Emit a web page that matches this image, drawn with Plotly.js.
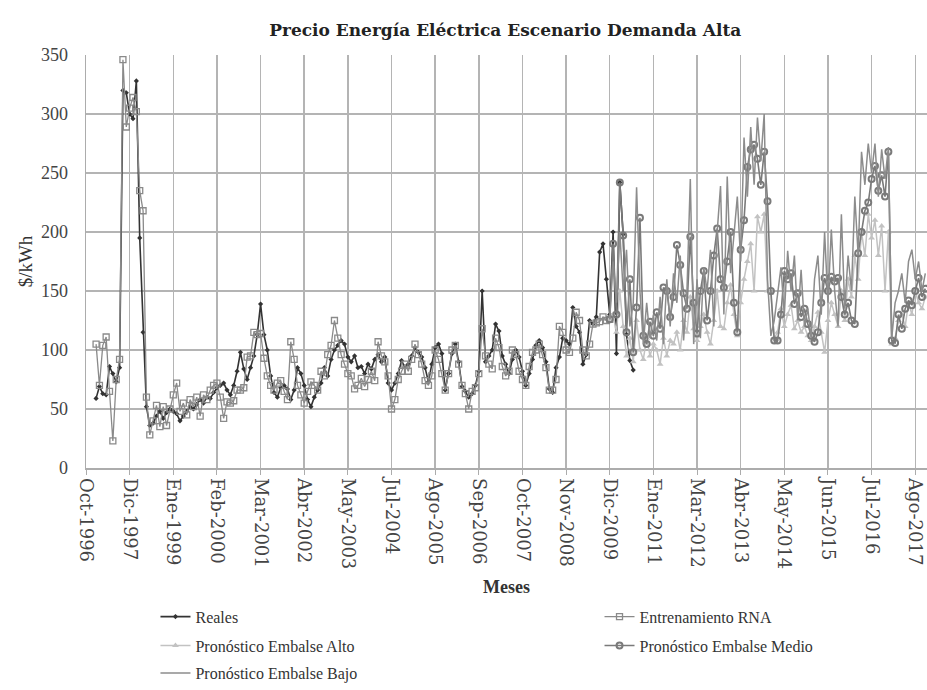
<!DOCTYPE html>
<html><head><meta charset="utf-8">
<script src="https://cdn.plot.ly/plotly-3.0.1.min.js"></script>
<style>html,body{margin:0;padding:0;background:#fff}#chart{width:927px;height:690px}</style>
</head><body><div id="chart"></div>
<script>
// Tick labels (one every 13 categories)
const tickLabels = ['Oct-1996','Dic-1997','Ene-1999','Feb-2000','Mar-2001','Abr-2002','May-2003','Jul-2004','Ago-2005','Sep-2006','Oct-2007','Nov-2008','Dic-2009','Ene-2011','Mar-2012','Abr-2013','May-2014','Jun-2015','Jul-2016','Ago-2017'];
const tickStep = 13;

// Reales (starting at category 3)
const realesStart = 3;
const reales = [59,69,63,62,86,80,73,85,320,318,300,296,328,195,115,52,36,38,44,48,42,47,50,48,46,40,44,48,52,50,54,58,55,60,59,64,68,70,72,66,62,70,82,98,84,75,85,95,113,139,113,100,78,64,60,68,70,67,58,66,85,80,70,58,52,60,66,72,85,78,92,100,104,108,105,94,90,95,85,86,80,88,84,92,96,90,94,72,66,72,80,91,85,88,95,102,98,94,85,73,88,102,105,97,66,80,97,105,90,69,65,60,63,70,82,150,90,95,100,122,116,95,88,80,92,100,94,82,70,80,92,104,108,102,90,67,64,85,94,110,108,105,136,120,115,88,96,125,122,128,183,190,160,130,200,97,242,198,113,91,83];

// Entrenamiento RNA (starting at category 3)
const entrenStart = 3;
const entrenamiento = [105,70,104,111,65,23,75,92,346,289,305,314,302,235,218,60,28,40,53,35,52,36,50,62,72,48,55,45,58,52,60,44,62,58,66,70,72,60,42,56,55,57,66,66,68,94,95,115,113,114,93,78,70,66,72,74,65,58,107,92,70,62,55,65,73,70,66,82,78,96,104,125,110,96,88,80,78,67,70,76,69,75,82,74,107,95,90,78,50,58,75,82,88,82,92,105,96,88,74,70,78,100,92,80,66,80,100,104,88,70,63,50,65,68,80,118,95,88,84,110,102,86,78,82,100,96,82,75,70,86,98,100,105,96,85,66,66,75,120,115,100,98,110,132,125,100,95,105,122,123,124,128,125,126];

// Forecasts (starting at category 156)
const pronStart = 156;
const embalseAlto = [126,130,115,150,120,95,110,90,125,100,92,110,95,105,100,88,110,95,108,105,115,100,125,115,145,118,108,120,130,115,105,125,150,120,118,140,155,130,112,140,160,175,190,150,213,200,215,150,148,110,115,135,120,130,138,118,125,115,120,112,108,120,132,115,98,125,140,130,120,150,125,160,145,180,160,200,180,215,195,210,180,205,150,200,105,110,125,130,120,140,130,150,140,135,145];
const embalseMedio = [126,190,130,242,197,115,160,98,136,212,112,105,124,112,132,118,153,150,128,145,189,172,148,135,196,140,114,150,167,125,150,180,203,160,153,175,200,140,115,185,210,255,270,274,262,240,268,226,150,108,108,130,167,160,165,139,148,128,135,122,112,107,115,140,161,150,162,158,161,145,130,140,125,122,182,200,218,225,245,256,235,248,230,268,108,106,130,118,135,142,138,150,161,145,152];
const embalseBajo = [126,175,140,200,150,185,120,140,238,150,105,140,110,130,108,145,105,160,120,165,140,180,108,150,245,105,160,110,170,150,185,120,200,239,130,247,165,200,230,175,280,230,289,240,297,260,300,160,112,125,150,170,130,184,150,180,125,168,120,135,110,160,180,130,200,140,202,150,120,215,135,180,150,230,180,268,240,275,250,275,230,270,245,272,110,140,150,165,140,175,185,160,175,150,165];

const idx = (start, arr) => arr.map((_, i) => start + i);
const serif = 'Liberation Serif, Times New Roman, serif';

const traces = [
  {name:'Reales', x:idx(realesStart,reales), y:reales, type:'scatter', mode:'lines+markers',
   line:{color:'#333333', width:1.6}, marker:{symbol:'diamond', size:4, color:'#333333'}, legend:'legend'},
  {name:'Entrenamiento RNA', x:idx(entrenStart,entrenamiento), y:entrenamiento, type:'scatter', mode:'lines+markers',
   line:{color:'#8a8a8a', width:1.3}, marker:{symbol:'square-open', size:6, color:'#8a8a8a', line:{width:1.3}}, legend:'legend2'},
  {name:'Pronóstico Embalse Alto', x:idx(pronStart,embalseAlto), y:embalseAlto, type:'scatter', mode:'lines+markers',
   line:{color:'#c2c2c2', width:1.5}, marker:{symbol:'triangle-up', size:6, color:'#c2c2c2'}, legend:'legend3'},
  {name:'Pronóstico Embalse Medio', x:idx(pronStart,embalseMedio), y:embalseMedio, type:'scatter', mode:'lines+markers',
   line:{color:'#7a7a7a', width:1.6}, marker:{symbol:'circle-open', size:6, color:'#7a7a7a', line:{width:2}}, legend:'legend4'},
  {name:'Pronóstico Embalse Bajo', x:idx(pronStart,embalseBajo), y:embalseBajo, type:'scatter', mode:'lines',
   line:{color:'#8c8c8c', width:1.5}, legend:'legend5'}
];

const legBase = {orientation:'h', xanchor:'left', yanchor:'middle',
  font:{family:serif, size:16, color:'#333'}, bgcolor:'rgba(0,0,0,0)'};
const leg = (x, y) => Object.assign({}, legBase, {x:x, y:y});

const layout = {
  width:927, height:690,
  margin:{l:86, r:0, t:55, b:218},
  paper_bgcolor:'#fff', plot_bgcolor:'#fff',
  title:{text:'<b>Precio Energía Eléctrica Escenario Demanda Alta</b>', font:{family:'DejaVu Serif, serif', size:17, color:'#222'},
         x:0.545, xanchor:'center', y:0.957, yanchor:'middle'},
  xaxis:{range:[0,250.5], tickvals:tickLabels.map((_, i) => i*tickStep), ticktext:tickLabels, tickangle:90,
         tickfont:{family:'DejaVu Serif, serif', size:18, color:'#444'}, showgrid:true, gridcolor:'#b4b4b4', gridwidth:1.5,
         showline:true, linecolor:'#acacac', linewidth:1.5, ticks:'outside', ticklen:5, tickcolor:'#acacac', zeroline:false,
         title:{text:'<b>Meses</b>', font:{family:serif, size:18, color:'#333'}, standoff:12}},
  yaxis:{range:[0,350], dtick:50, tickfont:{family:serif, size:18, color:'#444'}, showgrid:true, gridcolor:'#b4b4b4', gridwidth:1.5,
         showline:true, linecolor:'#acacac', linewidth:1.5, zeroline:false, ticks:'', ticklabelstandoff:13,
         title:{text:'$/kWh', font:{family:serif, size:19, color:'#333'}, standoff:3}},
  legend:leg(0.0826, -0.36),
  legend2:leg(0.6106, -0.36),
  legend3:leg(0.0826, -0.43),
  legend4:leg(0.6106, -0.43),
  legend5:leg(0.0826, -0.497),
  showlegend:true
};

Plotly.newPlot('chart', traces, layout, {displayModeBar:false, staticPlot:true});
</script>
</body></html>
